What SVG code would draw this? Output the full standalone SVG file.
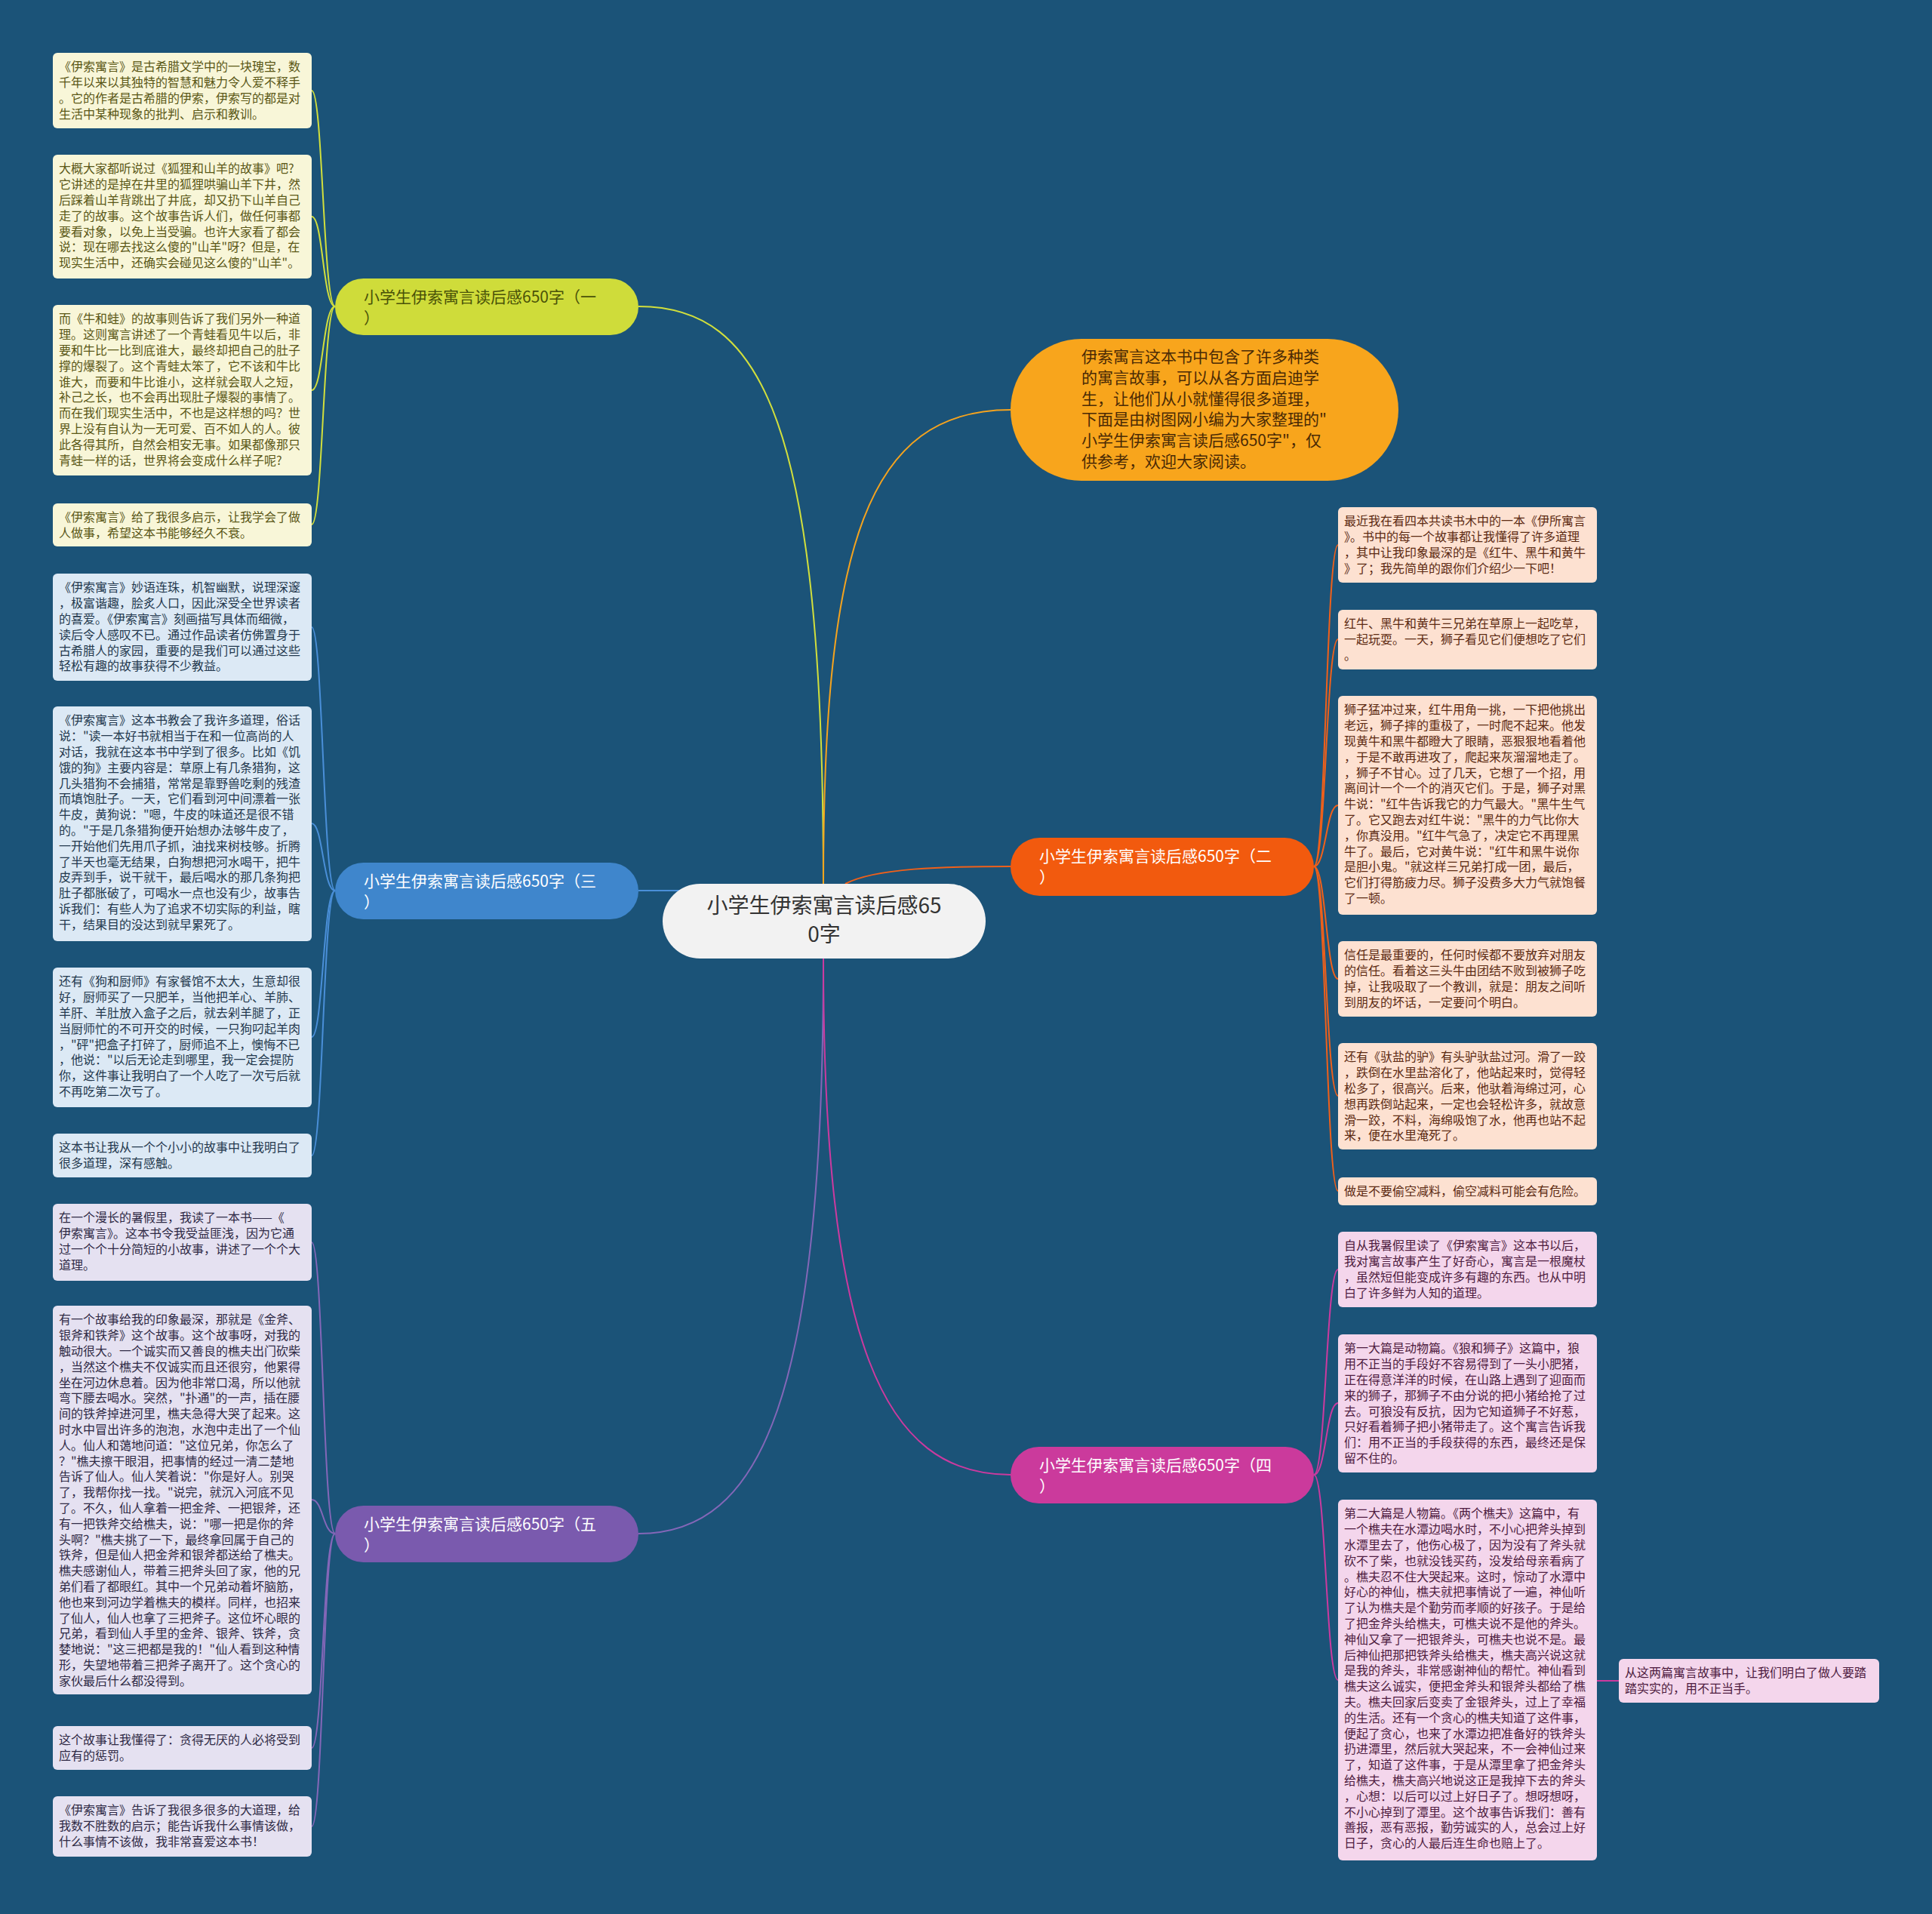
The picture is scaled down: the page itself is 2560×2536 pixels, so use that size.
<svg xmlns="http://www.w3.org/2000/svg" width="2560" height="2536" viewBox="0 0 2560 2536">
<style>
text{font-family:"Noto Sans CJK SC","Noto Sans",sans-serif}
.lf{font-size:16px}
.br{font-size:21px}
.c1 rect{fill:#f8f6d8}.c1 text{fill:#5a5716}
.c3 rect{fill:#dce9f5}.c3 text{fill:#23384d}
.c5 rect{fill:#e5e1f1}.c5 text{fill:#2f2a45}
.c2 rect{fill:#fde1d1}.c2 text{fill:#5c2a12}
.c4 rect{fill:#f4d6ec}.c4 text{fill:#4e1c40}
.conn path{fill:none;stroke-width:2}
</style>
<rect width="2560" height="2536" fill="#1b5378"/>
<g class="conn">
<path d="M1091,1171 C1091,560 1010,406 846,406" stroke="#d2df3c"/>
<path d="M1091,1171 C1091,720 1150,543 1339,543" stroke="#f5a31e"/>
<path d="M1000,1180 L846,1180" stroke="#4a8fd8"/>
<path d="M1120,1171 C1160,1150 1250,1148 1339,1148" stroke="#f0601a"/>
<path d="M1091,1270 C1091,1850 1010,2032 846,2032" stroke="#8467b8"/>
<path d="M1091,1270 C1091,1780 1170,1954 1339,1954" stroke="#cc3a9f"/>
<g stroke-width="1.6">
<path d="M444,406 C428,406 428,120 413,120" stroke="#d2df3c"/>
<path d="M444,406 C428,406 428,287 413,287" stroke="#d2df3c"/>
<path d="M444,406 C428,406 428,517 413,517" stroke="#d2df3c"/>
<path d="M444,406 C428,406 428,695 413,695" stroke="#d2df3c"/>
<path d="M444,1180 C428,1180 428,831 413,831" stroke="#4a8fd8"/>
<path d="M444,1180 C428,1180 428,1091 413,1091" stroke="#4a8fd8"/>
<path d="M444,1180 C428,1180 428,1374 413,1374" stroke="#4a8fd8"/>
<path d="M444,1180 C428,1180 428,1531 413,1531" stroke="#4a8fd8"/>
<path d="M444,2032 C428,2032 428,1646 413,1646" stroke="#8467b8"/>
<path d="M444,2032 C428,2032 428,1987 413,1987" stroke="#8467b8"/>
<path d="M444,2032 C428,2032 428,2316 413,2316" stroke="#8467b8"/>
<path d="M444,2032 C428,2032 428,2420 413,2420" stroke="#8467b8"/>
<path d="M1741,1148 C1757,1148 1757,722 1773,722" stroke="#f0601a"/>
<path d="M1741,1148 C1757,1148 1757,847 1773,847" stroke="#f0601a"/>
<path d="M1741,1148 C1757,1148 1757,1067 1773,1067" stroke="#f0601a"/>
<path d="M1741,1148 C1757,1148 1757,1297 1773,1297" stroke="#f0601a"/>
<path d="M1741,1148 C1757,1148 1757,1452 1773,1452" stroke="#f0601a"/>
<path d="M1741,1148 C1757,1148 1757,1578 1773,1578" stroke="#f0601a"/>
<path d="M1741,1954 C1757,1954 1757,1682 1773,1682" stroke="#cc3a9f"/>
<path d="M1741,1954 C1757,1954 1757,1859 1773,1859" stroke="#cc3a9f"/>
<path d="M1741,1954 C1757,1954 1757,2226 1773,2226" stroke="#cc3a9f"/>
<path d="M2116,2227 L2145,2227" stroke="#cc3a9f"/>
</g>
</g>

<g id="center">
<rect x="878" y="1171" width="428" height="99" rx="49.5" fill="#f2f2f2"/>
<text x="1092" y="1210" font-size="28" fill="#333" text-anchor="middle">小学生伊索寓言读后感65<tspan x="1092" dy="38">0字</tspan></text>
</g>

<g id="intro">
<rect x="1339" y="449" width="514" height="188" rx="94" fill="#f8a51c"/>
<text x="1433" y="480" font-size="21" fill="#4a2a05">伊索寓言这本书中包含了许多种类<tspan x="1433" dy="27.8">的寓言故事，可以从各方面启迪学</tspan><tspan x="1433" dy="27.8">生，让他们从小就懂得很多道理，</tspan><tspan x="1433" dy="27.8">下面是由树图网小编为大家整理的"</tspan><tspan x="1433" dy="27.8">小学生伊索寓言读后感650字"，仅</tspan><tspan x="1433" dy="27.8">供参考，欢迎大家阅读。</tspan></text>
</g>

<g id="b1">
<rect x="444" y="369" width="402" height="75" rx="37.5" fill="#cfdc3a"/>
<text class="br" x="482" y="401" fill="#4a5208">小学生伊索寓言读后感650字（一<tspan x="482" dy="28">）</tspan></text>
</g>
<g id="b3">
<rect x="444" y="1143" width="402" height="75" rx="37.5" fill="#3f86cc"/>
<text class="br" x="482" y="1175" fill="#fff">小学生伊索寓言读后感650字（三<tspan x="482" dy="28">）</tspan></text>
</g>
<g id="b5">
<rect x="444" y="1995" width="402" height="75" rx="37.5" fill="#7a5aae"/>
<text class="br" x="482" y="2027" fill="#fff">小学生伊索寓言读后感650字（五<tspan x="482" dy="28">）</tspan></text>
</g>
<g id="b2">
<rect x="1339" y="1110" width="402" height="77" rx="38.5" fill="#f25a0e"/>
<text class="br" x="1377" y="1142" fill="#fff">小学生伊索寓言读后感650字（二<tspan x="1377" dy="28">）</tspan></text>
</g>
<g id="b4">
<rect x="1339" y="1917" width="402" height="75" rx="37.5" fill="#cb3a9c"/>
<text class="br" x="1377" y="1949" fill="#fff">小学生伊索寓言读后感650字（四<tspan x="1377" dy="28">）</tspan></text>
</g>

<g id="l1" class="c1 lf"><rect x="70" y="70" width="343" height="100" rx="6"/><text x="78" y="94.4">《伊索寓言》是古希腊文学中的一块瑰宝，数<tspan x="78" dy="20.8">千年以来以其独特的智慧和魅力令人爱不释手</tspan><tspan x="78" dy="20.8">。它的作者是古希腊的伊索，伊索写的都是对</tspan><tspan x="78" dy="20.8">生活中某种现象的批判、启示和教训。</tspan></text></g>
<g id="l2" class="c1 lf"><rect x="70" y="205" width="343" height="164" rx="6"/><text x="78" y="229.4">大概大家都听说过《狐狸和山羊的故事》吧?<tspan x="78" dy="20.8">它讲述的是掉在井里的狐狸哄骗山羊下井，然</tspan><tspan x="78" dy="20.8">后踩着山羊背跳出了井底，却又扔下山羊自己</tspan><tspan x="78" dy="20.8">走了的故事。这个故事告诉人们，做任何事都</tspan><tspan x="78" dy="20.8">要看对象，以免上当受骗。也许大家看了都会</tspan><tspan x="78" dy="20.8">说：现在哪去找这么傻的"山羊"呀？但是，在</tspan><tspan x="78" dy="20.8">现实生活中，还确实会碰见这么傻的"山羊"。</tspan></text></g>
<g id="l3" class="c1 lf"><rect x="70" y="404" width="343" height="226" rx="6"/><text x="78" y="428.4">而《牛和蛙》的故事则告诉了我们另外一种道<tspan x="78" dy="20.8">理。这则寓言讲述了一个青蛙看见牛以后，非</tspan><tspan x="78" dy="20.8">要和牛比一比到底谁大，最终却把自己的肚子</tspan><tspan x="78" dy="20.8">撑的爆裂了。这个青蛙太笨了，它不该和牛比</tspan><tspan x="78" dy="20.8">谁大，而要和牛比谁小，这样就会取人之短，</tspan><tspan x="78" dy="20.8">补己之长，也不会再出现肚子爆裂的事情了。</tspan><tspan x="78" dy="20.8">而在我们现实生活中，不也是这样想的吗？世</tspan><tspan x="78" dy="20.8">界上没有自认为一无可爱、百不如人的人。彼</tspan><tspan x="78" dy="20.8">此各得其所，自然会相安无事。如果都像那只</tspan><tspan x="78" dy="20.8">青蛙一样的话，世界将会变成什么样子呢?</tspan></text></g>
<g id="l4" class="c1 lf"><rect x="70" y="667" width="343" height="57" rx="6"/><text x="78" y="691.4">《伊索寓言》给了我很多启示，让我学会了做<tspan x="78" dy="20.8">人做事，希望这本书能够经久不衰。</tspan></text></g>

<g id="l5" class="c3 lf"><rect x="70" y="760" width="343" height="142" rx="6"/><text x="78" y="784.4">《伊索寓言》妙语连珠，机智幽默，说理深邃<tspan x="78" dy="20.8">，极富谐趣，脍炙人口，因此深受全世界读者</tspan><tspan x="78" dy="20.8">的喜爱。《伊索寓言》刻画描写具体而细微，</tspan><tspan x="78" dy="20.8">读后令人感叹不已。通过作品读者仿佛置身于</tspan><tspan x="78" dy="20.8">古希腊人的家园，重要的是我们可以通过这些</tspan><tspan x="78" dy="20.8">轻松有趣的故事获得不少教益。</tspan></text></g>
<g id="l6" class="c3 lf"><rect x="70" y="936" width="343" height="311" rx="6"/><text x="78" y="960.4">《伊索寓言》这本书教会了我许多道理，俗话<tspan x="78" dy="20.8">说："读一本好书就相当于在和一位高尚的人</tspan><tspan x="78" dy="20.8">对话，我就在这本书中学到了很多。比如《饥</tspan><tspan x="78" dy="20.8">饿的狗》主要内容是：草原上有几条猎狗，这</tspan><tspan x="78" dy="20.8">几头猎狗不会捕猎，常常是靠野兽吃剩的残渣</tspan><tspan x="78" dy="20.8">而填饱肚子。一天，它们看到河中间漂着一张</tspan><tspan x="78" dy="20.8">牛皮，黄狗说："嗯，牛皮的味道还是很不错</tspan><tspan x="78" dy="20.8">的。"于是几条猎狗便开始想办法够牛皮了，</tspan><tspan x="78" dy="20.8">一开始他们先用爪子抓，油找来树枝够。折腾</tspan><tspan x="78" dy="20.8">了半天也毫无结果，白狗想把河水喝干，把牛</tspan><tspan x="78" dy="20.8">皮弄到手，说干就干，最后喝水的那几条狗把</tspan><tspan x="78" dy="20.8">肚子都胀破了，可喝水一点也没有少，故事告</tspan><tspan x="78" dy="20.8">诉我们：有些人为了追求不切实际的利益，瞎</tspan><tspan x="78" dy="20.8">干，结果目的没达到就早累死了。</tspan></text></g>
<g id="l7" class="c3 lf"><rect x="70" y="1282" width="343" height="185" rx="6"/><text x="78" y="1306.4">还有《狗和厨师》有家餐馆不太大，生意却很<tspan x="78" dy="20.8">好，厨师买了一只肥羊，当他把羊心、羊肺、</tspan><tspan x="78" dy="20.8">羊肝、羊肚放入盒子之后，就去剁羊腿了，正</tspan><tspan x="78" dy="20.8">当厨师忙的不可开交的时候，一只狗叼起羊肉</tspan><tspan x="78" dy="20.8">，"砰"把盒子打碎了，厨师追不上，懊悔不已</tspan><tspan x="78" dy="20.8">，他说："以后无论走到哪里，我一定会提防</tspan><tspan x="78" dy="20.8">你，这件事让我明白了一个人吃了一次亏后就</tspan><tspan x="78" dy="20.8">不再吃第二次亏了。</tspan></text></g>
<g id="l8" class="c3 lf"><rect x="70" y="1502" width="343" height="58" rx="6"/><text x="78" y="1526.4">这本书让我从一个个小小的故事中让我明白了<tspan x="78" dy="20.8">很多道理，深有感触。</tspan></text></g>

<g id="l9" class="c5 lf"><rect x="70" y="1595" width="343" height="102" rx="6"/><text x="78" y="1619.4">在一个漫长的暑假里，我读了一本书——《<tspan x="78" dy="20.8">伊索寓言》。这本书令我受益匪浅，因为它通</tspan><tspan x="78" dy="20.8">过一个个十分简短的小故事，讲述了一个个大</tspan><tspan x="78" dy="20.8">道理。</tspan></text></g>
<g id="l10" class="c5 lf"><rect x="70" y="1730" width="343" height="515" rx="6"/><text x="78" y="1754.4">有一个故事给我的印象最深，那就是《金斧、<tspan x="78" dy="20.8">银斧和铁斧》这个故事。这个故事呀，对我的</tspan><tspan x="78" dy="20.8">触动很大。一个诚实而又善良的樵夫出门砍柴</tspan><tspan x="78" dy="20.8">，当然这个樵夫不仅诚实而且还很穷，他累得</tspan><tspan x="78" dy="20.8">坐在河边休息着。因为他非常口渴，所以他就</tspan><tspan x="78" dy="20.8">弯下腰去喝水。突然，"扑通"的一声，插在腰</tspan><tspan x="78" dy="20.8">间的铁斧掉进河里，樵夫急得大哭了起来。这</tspan><tspan x="78" dy="20.8">时水中冒出许多的泡泡，水泡中走出了一个仙</tspan><tspan x="78" dy="20.8">人。仙人和蔼地问道："这位兄弟，你怎么了</tspan><tspan x="78" dy="20.8">？"樵夫擦干眼泪，把事情的经过一清二楚地</tspan><tspan x="78" dy="20.8">告诉了仙人。仙人笑着说："你是好人。别哭</tspan><tspan x="78" dy="20.8">了，我帮你找一找。"说完，就沉入河底不见</tspan><tspan x="78" dy="20.8">了。不久，仙人拿着一把金斧、一把银斧，还</tspan><tspan x="78" dy="20.8">有一把铁斧交给樵夫，说："哪一把是你的斧</tspan><tspan x="78" dy="20.8">头啊？"樵夫挑了一下，最终拿回属于自己的</tspan><tspan x="78" dy="20.8">铁斧，但是仙人把金斧和银斧都送给了樵夫。</tspan><tspan x="78" dy="20.8">樵夫感谢仙人，带着三把斧头回了家，他的兄</tspan><tspan x="78" dy="20.8">弟们看了都眼红。其中一个兄弟动着坏脑筋，</tspan><tspan x="78" dy="20.8">他也来到河边学着樵夫的模样。同样，也招来</tspan><tspan x="78" dy="20.8">了仙人，仙人也拿了三把斧子。这位坏心眼的</tspan><tspan x="78" dy="20.8">兄弟，看到仙人手里的金斧、银斧、铁斧，贪</tspan><tspan x="78" dy="20.8">婪地说："这三把都是我的！"仙人看到这种情</tspan><tspan x="78" dy="20.8">形，失望地带着三把斧子离开了。这个贪心的</tspan><tspan x="78" dy="20.8">家伙最后什么都没得到。</tspan></text></g>
<g id="l11" class="c5 lf"><rect x="70" y="2287" width="343" height="58" rx="6"/><text x="78" y="2311.4">这个故事让我懂得了：贪得无厌的人必将受到<tspan x="78" dy="20.8">应有的惩罚。</tspan></text></g>
<g id="l12" class="c5 lf"><rect x="70" y="2380" width="343" height="80" rx="6"/><text x="78" y="2404.4">《伊索寓言》告诉了我很多很多的大道理，给<tspan x="78" dy="20.8">我数不胜数的启示；能告诉我什么事情该做，</tspan><tspan x="78" dy="20.8">什么事情不该做，我非常喜爱这本书！</tspan></text></g>

<g id="r1" class="c2 lf"><rect x="1773" y="672" width="343" height="100" rx="6"/><text x="1781" y="696.4">最近我在看四本共读书木中的一本《伊所寓言<tspan x="1781" dy="20.8">》。书中的每一个故事都让我懂得了许多道理</tspan><tspan x="1781" dy="20.8">，其中让我印象最深的是《红牛、黑牛和黄牛</tspan><tspan x="1781" dy="20.8">》了；我先简单的跟你们介绍少一下吧！</tspan></text></g>
<g id="r2" class="c2 lf"><rect x="1773" y="808" width="343" height="79" rx="6"/><text x="1781" y="832.4">红牛、黑牛和黄牛三兄弟在草原上一起吃草，<tspan x="1781" dy="20.8">一起玩耍。一天，狮子看见它们便想吃了它们</tspan><tspan x="1781" dy="20.8">。</tspan></text></g>
<g id="r3" class="c2 lf"><rect x="1773" y="922" width="343" height="290" rx="6"/><text x="1781" y="946.4">狮子猛冲过来，红牛用角一挑，一下把他挑出<tspan x="1781" dy="20.8">老远，狮子摔的重极了，一时爬不起来。他发</tspan><tspan x="1781" dy="20.8">现黄牛和黑牛都瞪大了眼睛，恶狠狠地看着他</tspan><tspan x="1781" dy="20.8">，于是不敢再进攻了，爬起来灰溜溜地走了。</tspan><tspan x="1781" dy="20.8">，狮子不甘心。过了几天，它想了一个招，用</tspan><tspan x="1781" dy="20.8">离间计一个一个的消灭它们。于是，狮子对黑</tspan><tspan x="1781" dy="20.8">牛说："红牛告诉我它的力气最大。"黑牛生气</tspan><tspan x="1781" dy="20.8">了。它又跑去对红牛说："黑牛的力气比你大</tspan><tspan x="1781" dy="20.8">，你真没用。"红牛气急了，决定它不再理黑</tspan><tspan x="1781" dy="20.8">牛了。最后，它对黄牛说："红牛和黑牛说你</tspan><tspan x="1781" dy="20.8">是胆小鬼。"就这样三兄弟打成一团，最后，</tspan><tspan x="1781" dy="20.8">它们打得筋疲力尽。狮子没费多大力气就饱餐</tspan><tspan x="1781" dy="20.8">了一顿。</tspan></text></g>
<g id="r4" class="c2 lf"><rect x="1773" y="1247" width="343" height="100" rx="6"/><text x="1781" y="1271.4">信任是最重要的，任何时候都不要放弃对朋友<tspan x="1781" dy="20.8">的信任。看着这三头牛由团结不败到被狮子吃</tspan><tspan x="1781" dy="20.8">掉，让我吸取了一个教训，就是：朋友之间听</tspan><tspan x="1781" dy="20.8">到朋友的坏话，一定要问个明白。</tspan></text></g>
<g id="r5" class="c2 lf"><rect x="1773" y="1382" width="343" height="141" rx="6"/><text x="1781" y="1406.4">还有《驮盐的驴》有头驴驮盐过河。滑了一跤<tspan x="1781" dy="20.8">，跌倒在水里盐溶化了，他站起来时，觉得轻</tspan><tspan x="1781" dy="20.8">松多了，很高兴。后来，他驮着海绵过河，心</tspan><tspan x="1781" dy="20.8">想再跌倒站起来，一定也会轻松许多，就故意</tspan><tspan x="1781" dy="20.8">滑一跤，不料，海绵吸饱了水，他再也站不起</tspan><tspan x="1781" dy="20.8">来，便在水里淹死了。</tspan></text></g>
<g id="r6" class="c2 lf"><rect x="1773" y="1560" width="343" height="37" rx="6"/><text x="1781" y="1584.4">做是不要偷空减料，偷空减料可能会有危险。</text></g>

<g id="r7" class="c4 lf"><rect x="1773" y="1632" width="343" height="100" rx="6"/><text x="1781" y="1656.4">自从我暑假里读了《伊索寓言》这本书以后，<tspan x="1781" dy="20.8">我对寓言故事产生了好奇心，寓言是一根魔杖</tspan><tspan x="1781" dy="20.8">，虽然短但能变成许多有趣的东西。也从中明</tspan><tspan x="1781" dy="20.8">白了许多鲜为人知的道理。</tspan></text></g>
<g id="r8" class="c4 lf"><rect x="1773" y="1768" width="343" height="183" rx="6"/><text x="1781" y="1792.4">第一大篇是动物篇。《狼和狮子》这篇中，狼<tspan x="1781" dy="20.8">用不正当的手段好不容易得到了一头小肥猪，</tspan><tspan x="1781" dy="20.8">正在得意洋洋的时候，在山路上遇到了迎面而</tspan><tspan x="1781" dy="20.8">来的狮子，那狮子不由分说的把小猪给抢了过</tspan><tspan x="1781" dy="20.8">去。可狼没有反抗，因为它知道狮子不好惹，</tspan><tspan x="1781" dy="20.8">只好看着狮子把小猪带走了。这个寓言告诉我</tspan><tspan x="1781" dy="20.8">们：用不正当的手段获得的东西，最终还是保</tspan><tspan x="1781" dy="20.8">留不住的。</tspan></text></g>
<g id="r9" class="c4 lf"><rect x="1773" y="1987" width="343" height="478" rx="6"/><text x="1781" y="2011.4">第二大篇是人物篇。《两个樵夫》这篇中，有<tspan x="1781" dy="20.8">一个樵夫在水潭边喝水时，不小心把斧头掉到</tspan><tspan x="1781" dy="20.8">水潭里去了，他伤心极了，因为没有了斧头就</tspan><tspan x="1781" dy="20.8">砍不了柴，也就没钱买药，没发给母亲看病了</tspan><tspan x="1781" dy="20.8">。樵夫忍不住大哭起来。这时，惊动了水潭中</tspan><tspan x="1781" dy="20.8">好心的神仙，樵夫就把事情说了一遍，神仙听</tspan><tspan x="1781" dy="20.8">了认为樵夫是个勤劳而孝顺的好孩子。于是给</tspan><tspan x="1781" dy="20.8">了把金斧头给樵夫，可樵夫说不是他的斧头。</tspan><tspan x="1781" dy="20.8">神仙又拿了一把银斧头，可樵夫也说不是。最</tspan><tspan x="1781" dy="20.8">后神仙把那把铁斧头给樵夫，樵夫高兴说这就</tspan><tspan x="1781" dy="20.8">是我的斧头，非常感谢神仙的帮忙。神仙看到</tspan><tspan x="1781" dy="20.8">樵夫这么诚实，便把金斧头和银斧头都给了樵</tspan><tspan x="1781" dy="20.8">夫。樵夫回家后变卖了金银斧头，过上了幸福</tspan><tspan x="1781" dy="20.8">的生活。还有一个贪心的樵夫知道了这件事，</tspan><tspan x="1781" dy="20.8">便起了贪心，也来了水潭边把准备好的铁斧头</tspan><tspan x="1781" dy="20.8">扔进潭里，然后就大哭起来，不一会神仙过来</tspan><tspan x="1781" dy="20.8">了，知道了这件事，于是从潭里拿了把金斧头</tspan><tspan x="1781" dy="20.8">给樵夫，樵夫高兴地说这正是我掉下去的斧头</tspan><tspan x="1781" dy="20.8">，心想：以后可以过上好日子了。想呀想呀，</tspan><tspan x="1781" dy="20.8">不小心掉到了潭里。这个故事告诉我们：善有</tspan><tspan x="1781" dy="20.8">善报，恶有恶报，勤劳诚实的人，总会过上好</tspan><tspan x="1781" dy="20.8">日子，贪心的人最后连生命也赔上了。</tspan></text></g>
<g id="r10" class="c4 lf"><rect x="2145" y="2198" width="345" height="58" rx="6"/><text x="2153" y="2222.4">从这两篇寓言故事中，让我们明白了做人要踏<tspan x="2153" dy="20.8">踏实实的，用不正当手。</tspan></text></g>
</svg>
